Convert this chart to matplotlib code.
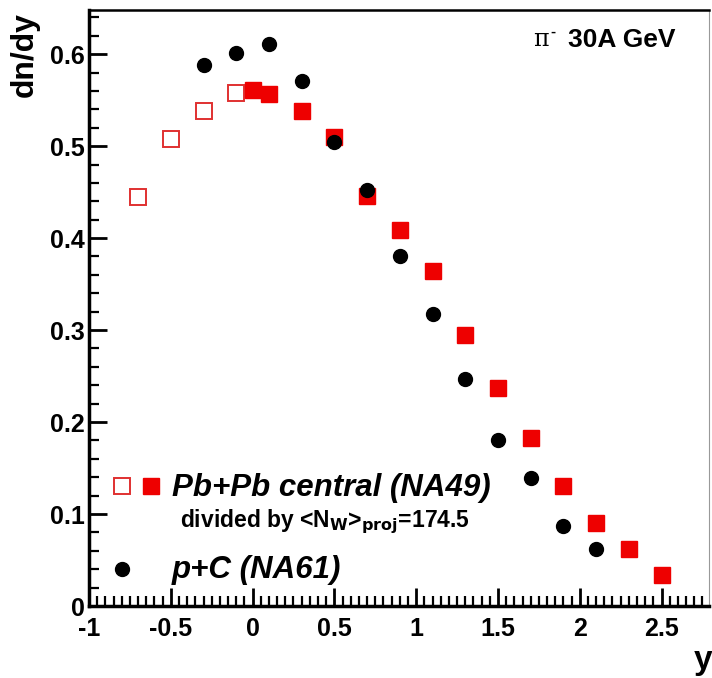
import matplotlib
matplotlib.use("Agg")
import matplotlib.pyplot as plt
from matplotlib.ticker import MultipleLocator

plt.rcParams['font.family'] = ['Liberation Sans', 'DejaVu Sans']

# p+C (NA61)
pc_y = [-0.3, -0.1, 0.1, 0.3, 0.5, 0.7, 0.9, 1.1, 1.3, 1.5, 1.7, 1.9, 2.1]
pc_dndy = [0.588, 0.601, 0.611, 0.571, 0.504, 0.452, 0.381, 0.318, 0.247, 0.181, 0.139, 0.087, 0.062]

# Pb+Pb central (NA49), measured (filled)
pb_y = [0.0, 0.1, 0.3, 0.5, 0.7, 0.9, 1.1, 1.3, 1.5, 1.7, 1.9, 2.1, 2.3, 2.5]
pb_dndy = [0.561, 0.557, 0.538, 0.510, 0.446, 0.409, 0.364, 0.295, 0.237, 0.183, 0.130, 0.090, 0.062, 0.034]

# Pb+Pb reflected (open)
pbr_y = [-0.7, -0.5, -0.3, -0.1]
pbr_dndy = [0.445, 0.508, 0.538, 0.558]

fig = plt.figure(figsize=(7.12, 6.78), dpi=100)
ax = fig.add_axes([89/712, 72/678, 620/712, 596/678])

red = '#ee0000'
ax.plot(pbr_y, pbr_dndy, 's', ms=11, mfc='white', mec='#e03030', mew=1.4, ls='none')
ax.plot(pb_y, pb_dndy, 's', ms=11, mfc=red, mec=red, ls='none')
ax.plot(pc_y, pc_dndy, 'o', ms=10, mfc='black', mec='black', ls='none')

ax.set_xlim(-1, 2.79)
ax.set_ylim(0, 0.648)
ax.xaxis.set_minor_locator(MultipleLocator(0.05))
ax.yaxis.set_minor_locator(MultipleLocator(0.02))
ax.set_xticks([-1, -0.5, 0, 0.5, 1, 1.5, 2, 2.5])
ax.set_xticklabels(['-1', '-0.5', '0', '0.5', '1', '1.5', '2', '2.5'])
ax.set_yticks([0, 0.1, 0.2, 0.3, 0.4, 0.5, 0.6])
ax.set_yticklabels(['0', '0.1', '0.2', '0.3', '0.4', '0.5', '0.6'])
ax.tick_params(which='major', direction='in', length=13, width=2, labelsize=18)
ax.tick_params(axis='x', which='major', pad=8)
ax.tick_params(axis='y', which='major', pad=3)
ax.tick_params(which='minor', direction='in', length=7, width=1.6)
for lab in ax.get_xticklabels() + ax.get_yticklabels():
    lab.set_fontweight('bold')

ax.spines['left'].set_linewidth(2.5)
ax.spines['bottom'].set_linewidth(2.5)
ax.spines['top'].set_linewidth(1.8)
ax.spines['right'].set_linewidth(0.8)
ax.spines['right'].set_color('#999999')

fig.text(25/712, 1 - 55/678, 'dn/dy', rotation=90, fontsize=23, fontweight='bold',
         ha='center', va='center')
fig.text(703/712, 1 - 661/678, 'y', fontsize=24, fontweight='bold', ha='center', va='center')

fig.text(541/712, 1 - 40/678, 'π', fontsize=17, family=['DejaVu Serif'],
         ha='center', va='center')
fig.text(553/712, 1 - 32/678, '-', fontsize=11, fontweight='bold',
         ha='center', va='center')
fig.text(568/712, 1 - 40/678, '30A GeV', fontsize=19, fontweight='bold',
         ha='left', va='center')

# legend
ax.plot([-0.798], [0.130], 's', ms=11, mfc='white', mec='#e03030', mew=1.4, clip_on=False)
ax.plot([-0.621], [0.130], 's', ms=11, mfc=red, mec=red, clip_on=False)
ax.plot([-0.798], [0.040], 'o', ms=10, mfc='black', mec='black', clip_on=False)
ax.text(-0.493, 0.128, 'Pb+Pb central (NA49)', fontsize=22.5, fontweight='bold',
        style='italic', va='center', ha='left')
ax.text(-0.444, 0.092, r'divided by <N$_{\mathbf{W}}$>$_{\mathbf{proj}}$=174.5', fontsize=16.5,
        fontweight='bold', va='center', ha='left')
ax.text(-0.493, 0.039, 'p+C (NA61)', fontsize=22.5, fontweight='bold',
        style='italic', va='center', ha='left')

fig.savefig('out.png', dpi=100)
